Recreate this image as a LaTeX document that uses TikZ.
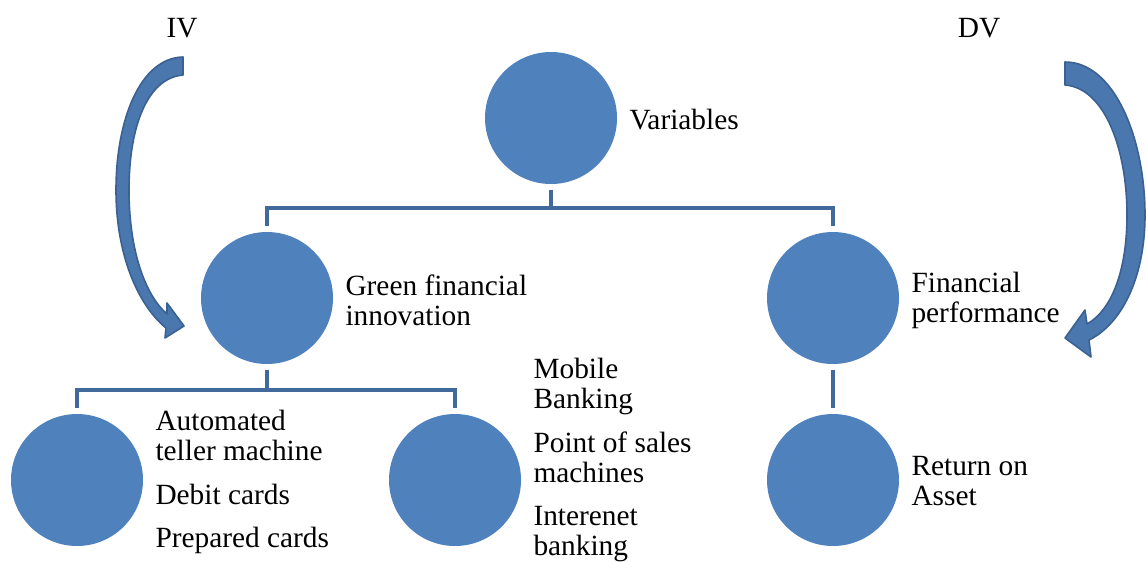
\documentclass[tikz,border=0pt]{standalone}
\usepackage{fontspec}
\setmainfont{Liberation Serif}
\usetikzlibrary{positioning}
\definecolor{circblue}{HTML}{4F81BD}
\definecolor{linkblue}{HTML}{41699C}
\definecolor{arrowfill}{HTML}{4A77AE}
\definecolor{arrowedge}{HTML}{3A6192}

\begin{document}
\begin{tikzpicture}[
				x = 0.75pt, y = -0.75pt,
				blob/.style = {circle, fill = circblue, inner sep = 0pt, minimum size = 99pt},
				txt/.style = {align = left, inner sep = 0pt, font = \fontsize{22}{22.5}\selectfont},
				link/.style = {draw = linkblue, line width = 3pt, shorten < = 4pt, shorten > = 4pt},
				curvedarrow/.style = {fill = arrowfill, draw = arrowedge, line width = 1.2pt, line join = round},
			]
			\useasboundingbox (0,0) rectangle (1146,561);

			\node[blob](V) at (551,118){};
			\node[blob](G) at (267,298){};
			\node[blob](F) at (833,298){};
			\node[blob](A) at (77,480){};
			\node[blob](M) at (455,480){};
			\node[blob](R) at (833,480){};

			\node[txt, right = 9pt of V, yshift = -1pt](VT){Variables};
			\node[txt, right = 9pt of G, yshift = -1.5pt](GT){Green financial\\innovation};
			\node[txt, right = 9pt of F, yshift = -1.5pt](FT){Financial\\performance};
			\node[txt, right = 9pt of A, yshift = -1.5pt](AT){Automated\\teller machine\\[10pt]Debit cards\\[10pt]Prepared cards};
			\node[txt, right = 9pt of M, yshift = 15pt](MT){Mobile\\Banking\\[10pt]Point of sales\\machines\\[10pt]Interenet\\banking};
			\node[txt, right = 9pt of R, yshift = -1pt](RT){Return on\\Asset};

			\node[txt](IV) at (182,28){IV};
			\node[txt](DV) at (979,28){DV};

			\draw[link](V.south)-- ++(0,24) -|(G.north);
			\draw[link](V.south)-- ++(0,24) -|(F.north);
			\draw[link](G.south)-- ++(0,26) -|(A.north);
			\draw[link](G.south)-- ++(0,26) -|(M.north);
			\draw[link](F.south)--(R.north);

			% curved block arrows below IV and DV
			\filldraw[curvedarrow](183,57) .. controls (140,58) and (116,120) .. (116,190)
				.. controls (116,255) and (138,305) .. (166,328) -- (165,338) -- (184,326) -- (167,303) -- (167,314)
				.. controls (145,295) and (129,250) .. (129,190)
				.. controls (129,125) and (148,78) .. (183,75) -- cycle;
			\filldraw[curvedarrow](1065,62) .. controls (1115,62) and (1145,140) .. (1145,215)
				.. controls (1145,280) and (1120,325) .. (1089,340) -- (1091,357) -- (1065,338) -- (1085,310) -- (1087,324)
				.. controls (1112,310) and (1127,270) .. (1127,215)
				.. controls (1127,150) and (1105,88) .. (1065,85) -- cycle;

		\end{tikzpicture}
\end{document}
